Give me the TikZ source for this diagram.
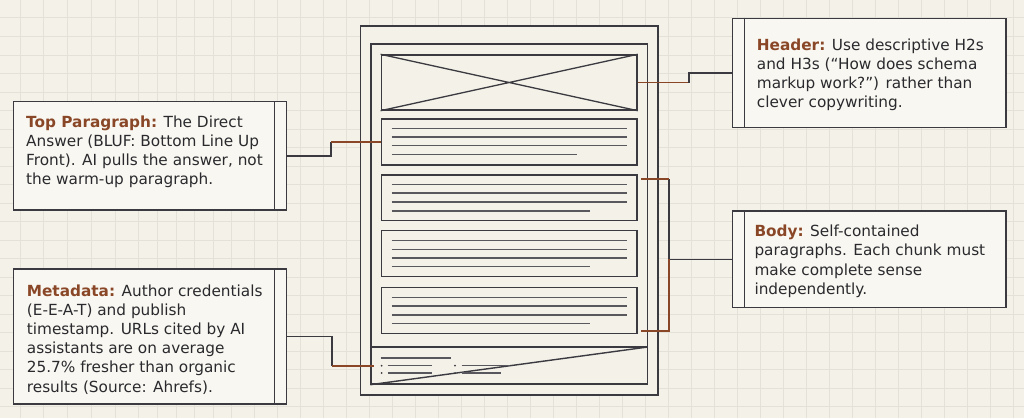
\documentclass[tikz,border=0pt]{standalone}
\usepackage{fontspec}
\setmainfont{DejaVu Sans}
\usetikzlibrary{calc}
\definecolor{bgc}{HTML}{F4F1E8}
\definecolor{gridc}{HTML}{E4E1D8}
\definecolor{ink}{HTML}{3A3A40}
\definecolor{rust}{HTML}{8A4727}
\definecolor{txt}{HTML}{2A2A2E}
\tikzset{
  frame/.style={draw=ink, line width=1.4pt, fill=bgc, inner sep=0pt},
  callout/.style={draw=ink, line width=1.4pt, fill=bgc!60!white, inner sep=0pt, minimum width=273.4pt},
  textline/.style={draw=ink!85, line width=1.3pt},
  darklink/.style={draw=ink, line width=1.5pt},
  rustlink/.style={draw=rust, line width=1.7pt},
  label/.style={anchor=base west, align=left, inner sep=0pt, text=txt,
    font=\fontsize{15.3}{19.2}\selectfont},
}
\newcommand{\hd}[1]{\textcolor{rust}{\bfseries #1}}
\begin{document}
\begin{tikzpicture}[x=1pt,y=-1pt]
\fill[bgc] (0,0) rectangle (1024,418);
\useasboundingbox (0,0) rectangle (1024,418);
% faint grid
\foreach \gx in {20,43,67,91,115,138,157,176,194,213,231,254,277,300,323,346,369,392,415,438,461,484,507,530,553,576,599,622,645,668,691,714,737,760,783,806,829,852,875,898,921,944,967,990,1013}
  \draw[gridc, line width=0.7pt] (\gx,0) -- (\gx,418);
\foreach \gy in {17,36,55,73,92,110,129,147,166,184,203,221,240,258,277,295,314,332,351,369,388,406}
  \draw[gridc, line width=0.7pt] (0,\gy) -- (1024,\gy);

% page wireframe
\node[frame, minimum width=297.3pt, minimum height=369pt] (page) at (509.35,210.5) {};
\node[frame, minimum width=276.7pt, minimum height=340pt] (inner) at (509.35,214) {};
\node[frame, minimum width=255.7pt, minimum height=55pt] (hdr) at (509.15,82.5) {};
\draw[ink, line width=1.3pt] (hdr.north west) -- (hdr.south east) (hdr.south west) -- (hdr.north east);
\node[frame, minimum width=255.7pt, minimum height=46pt] (p1) at (509.15,142) {};
\node[frame, minimum width=255.7pt, minimum height=45.7pt] (p2) at (509.15,197.85) {};
\node[frame, minimum width=255.7pt, minimum height=46pt] (p3) at (509.15,253.7) {};
\node[frame, minimum width=255.7pt, minimum height=46pt] (p4) at (509.15,310.7) {};
% text lines in paragraphs
\foreach \y in {128.3,137,145.7} \draw[textline] (391.7,\y) -- (627.3,\y);
\draw[textline] (391.7,154.3) -- (577.3,154.3);
\foreach \y in {184.3,193,202} \draw[textline] (391.7,\y) -- (627.3,\y);
\draw[textline] (391.7,211) -- (590,211);
\foreach \y in {240.3,249.3,258} \draw[textline] (391.7,\y) -- (627.3,\y);
\draw[textline] (391.7,266.7) -- (590,266.7);
\foreach \y in {297.3,306,315} \draw[textline] (391.7,\y) -- (627.3,\y);
\draw[textline] (391.7,323.7) -- (590,323.7);
% footer
\coordinate (fl) at (371,347);
\coordinate (fr) at (647.7,347);
\draw[ink, line width=1.4pt] (fl) -- (fr);
\draw[ink, line width=1.4pt] (inner.south west) -- (fr);
\draw[ink!85, line width=1.1pt] (380.7,358) -- (451,358);
\foreach \y in {365.7,373} {
  \fill[ink] (381.7,\y) circle (1pt);
  \fill[ink] (455,\y) circle (1pt);
  \draw[ink!85, line width=1.1pt] (387.7,\y) -- (432.3,\y);
}
\draw[ink!85, line width=1.1pt] (461.7,365.7) -- (510,365.7);
\draw[ink!85, line width=1.1pt] (461.7,373) -- (501,373);

% callout boxes
\node[callout, minimum height=108.3pt] (tp) at (150,155.85) {};
\draw[ink, line width=1.4pt] ($(tp.north east)+(-12.7,0)$) -- ($(tp.south east)+(-12.7,0)$);
\node[callout, minimum height=135pt] (md) at (150,336.5) {};
\draw[ink, line width=1.4pt] ($(md.north east)+(-12.7,0)$) -- ($(md.south east)+(-12.7,0)$);
\node[callout, minimum height=109pt] (hc) at (869.35,72.8) {};
\draw[ink, line width=1.4pt] ($(hc.north west)+(12.3,0)$) -- ($(hc.south west)+(12.3,0)$);
\node[callout, minimum height=96.7pt] (bc) at (869.35,259.35) {};
\draw[ink, line width=1.4pt] ($(bc.north west)+(12.3,0)$) -- ($(bc.south west)+(12.3,0)$);

% callout texts (anchor = baseline of last line)
\node[label] (tpt) at (26,184.9) {\hd{Top Paragraph:} The Direct\\Answer (BLUF: Bottom Line Up\\Front). AI pulls the answer, not\\the warm-up paragraph.};
\node[label] (mdt) at (26.7,392) {\hd{Metadata:} Author credentials\\(E-E-A-T) and publish\\timestamp. URLs cited by AI\\assistants are on average\\25.7\% fresher than organic\\results (Source: Ahrefs).};
\node[label] (hct) at (756.7,107.6) {\hd{Header:} Use descriptive H2s\\and H3s (“How does schema\\markup work?”) rather than\\clever copywriting.};
\node[label] (bct) at (754.3,294.3) {\hd{Body:} Self-contained\\paragraphs. Each chunk must\\make complete sense\\independently.};

% connectors
\coordinate (hk) at (689,82.5);
\draw[rustlink] (hdr.east) -- (hk);
\draw[darklink] (hk) |- (hc.west);

\coordinate (tk) at (331,142);
\draw[darklink] (tp.east) -| (tk);
\draw[rustlink] (tk) -- (p1.west);

\coordinate (mk) at (332,366);
\coordinate (me) at (374,366);
\draw[darklink] (md.east) -| (mk);
\draw[rustlink] (mk) -- (me);

\coordinate (bj) at (669,259.35);
\coordinate (bt) at (669,179);
\coordinate (btl) at (641,179);
\coordinate (bb) at (669,331);
\coordinate (bbl) at (641,331);
\draw[darklink] (bc.west) -- (bj) -- (bt);
\draw[rustlink] (bt) -- (btl);
\draw[rustlink] (bj) -- (bb) -- (bbl);
\end{tikzpicture}
\end{document}
